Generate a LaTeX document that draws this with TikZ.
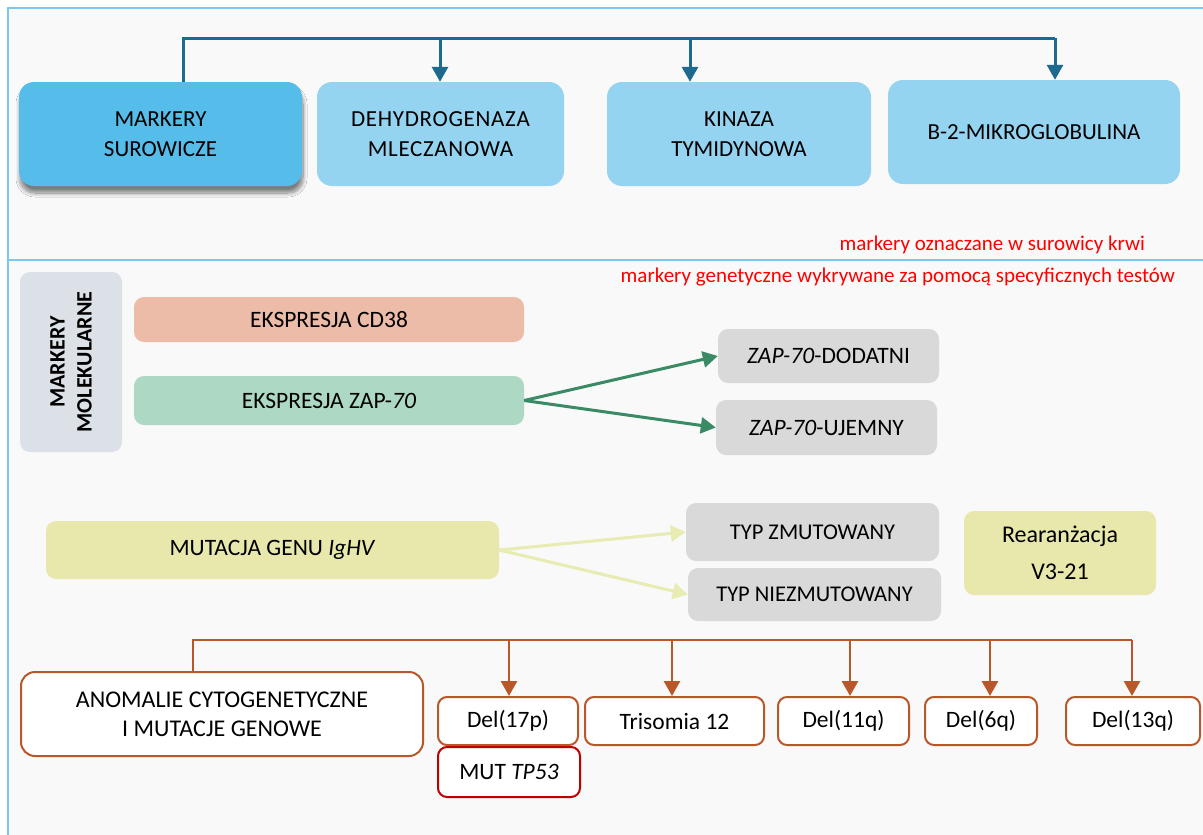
\documentclass[tikz,border=0pt]{standalone}
\usepackage{fontspec}
\setmainfont{Carlito}
\usetikzlibrary{arrows.meta,shadows.blur}
\definecolor{frameblue}{HTML}{7CC8EE}
\definecolor{bg}{HTML}{F9F9F9}
\definecolor{darkblue}{HTML}{56BCE9}
\definecolor{lightblue}{HTML}{94D4F1}
\definecolor{linkblue}{HTML}{1E6A8F}
\definecolor{molgrey}{HTML}{DCE0E7}
\definecolor{salmon}{HTML}{EDBCA8}
\definecolor{mint}{HTML}{ADD9C4}
\definecolor{boxgrey}{HTML}{D9D9D9}
\definecolor{linkgreen}{HTML}{3A8A66}
\definecolor{paleyellow}{HTML}{E8E8AC}
\definecolor{linkyellow}{HTML}{E8EBB2}
\definecolor{rust}{HTML}{B8582A}
\definecolor{darkred}{HTML}{C00000}
\begin{document}
\begin{tikzpicture}[x=1pt,y=-1pt,
  txt/.style={font=\fontsize{23.5}{28}\selectfont,align=center,text=black,inner sep=0pt},
  topbox/.style={rounded corners=15pt,draw=none,fill=lightblue,txt,minimum height=104pt,font=\fontsize{23}{30}\selectfont},
  softbox/.style={rounded corners=10pt,draw=none,txt},
  cytobox/.style={rounded corners=9pt,draw=rust,line width=2pt,fill=white,txt,minimum height=48pt},
  tip/.style={-{Triangle[width=16pt,length=15pt]}},
  bluelink/.style={linkblue,line width=3pt},
  bluearrow/.style={bluelink,tip},
  greenarrow/.style={linkgreen,line width=3pt,tip},
  yellowarrow/.style={linkyellow,line width=3pt,tip},
  rustlink/.style={rust,line width=2.8pt},
  rustarrow/.style={rustlink,tip},
  note/.style={font=\fontsize{21}{24}\selectfont,text=red,inner sep=0pt}
]
% canvas and frame
\useasboundingbox (0,0) rectangle (1203,835);
\fill[white] (0,0) rectangle (1203,835);
\fill[bg] (8,8) rectangle (1203,835);
\draw[frameblue,line width=2pt] (1203,8) -- (8,8) -- (8,835);
\draw[frameblue,line width=2pt] (8,260) -- (1203,260);

% serum markers
\node[topbox,fill=darkblue,minimum width=283pt,
      blur shadow={shadow xshift=1pt,shadow yshift=-7pt,shadow blur steps=12,shadow blur radius=4pt,shadow opacity=50}]
  (ms) at (160.5,134) {MARKERY\\SUROWICZE};
\node[topbox,minimum width=247pt,font=\fontsize{23}{30}\selectfont\addfontfeatures{LetterSpace=3}] (ldh) at (440.5,134) {DEHYDROGENAZA\\MLECZANOWA};
\node[topbox,minimum width=264pt] (tk) at (739,134) {KINAZA\\TYMIDYNOWA};
\node[topbox,minimum width=292pt] (b2m) at (1034,132) {B-2-MIKROGLOBULINA};

\coordinate (bus0) at (183,38);
\coordinate (bus1) at (440,38);
\coordinate (bus2) at (690,38);
\coordinate (bus3) at (1055,38);
\draw[bluelink] (bus0 |- ms.north) -- (bus0) -- (bus3);
\draw[bluearrow] (bus1) -- (bus1 |- ldh.north);
\draw[bluearrow] (bus2) -- (bus2 |- tk.north);
\draw[bluearrow] (bus3) -- (bus3 |- b2m.north);

\node[note,anchor=east] (n1) at (1145,245) {markery oznaczane w surowicy krwi};
\node[note,anchor=east] (n2) at (1175,277) {markery genetyczne wykrywane za pomocą specyficznych testów};

% molecular markers
\node[softbox,fill=molgrey,minimum width=102pt,minimum height=180pt] (mol) at (71,362) {};
\node[txt,font=\fontsize{22}{27}\selectfont\bfseries,rotate=90] (molt) at (mol.center) {MARKERY\\MOLEKULARNE};
\node[softbox,fill=salmon,minimum width=390pt,minimum height=45pt] (cd38) at (329,319.5) {EKSPRESJA CD38};
\node[softbox,fill=mint,minimum width=390pt,minimum height=49pt] (zap) at (329,400.5) {EKSPRESJA ZAP-\textit{70}};
\node[softbox,fill=boxgrey,minimum width=221pt,minimum height=54pt] (zpos) at (828.5,356) {\textit{ZAP-70}-DODATNI};
\node[softbox,fill=boxgrey,minimum width=221pt,minimum height=55pt] (zneg) at (826.5,427.5) {\textit{ZAP-70}-UJEMNY};
\draw[greenarrow] (zap.east) -- (zpos.west);
\draw[greenarrow] (zap.east) -- (zneg.west);

\node[softbox,fill=paleyellow,minimum width=453pt,minimum height=58pt] (ighv) at (272.5,550) {MUTACJA GENU \textit{IgHV}};
\node[softbox,fill=boxgrey,minimum width=253pt,minimum height=58pt,font=\fontsize{22.5}{27}\selectfont] (mut) at (812.5,532) {TYP ZMUTOWANY};
\node[softbox,fill=boxgrey,minimum width=253pt,minimum height=53pt,font=\fontsize{22.5}{27}\selectfont] (unmut) at (814.5,594.5) {TYP NIEZMUTOWANY};
\draw[yellowarrow] (ighv.east) -- (mut.west);
\draw[yellowarrow] (ighv.east) -- (unmut.west);
\node[softbox,fill=paleyellow,minimum width=192pt,minimum height=84pt,font=\fontsize{24}{37}\selectfont] (v321) at (1060,553) {Rearanżacja\\V3-21};

% cytogenetic anomalies
\node[cytobox,rounded corners=14pt,minimum width=402pt,minimum height=84pt,font=\fontsize{24}{29}\selectfont] (cyto) at (222,714) {ANOMALIE CYTOGENETYCZNE\\I MUTACJE GENOWE};
\node[cytobox,minimum width=140pt] (d17) at (508,721) {Del(17p)};
\node[cytobox,draw=darkred,minimum width=142pt,minimum height=50pt] (tp53) at (509,772) {MUT \textit{TP53}};
\node[cytobox,minimum width=179pt] (tri) at (674.5,721) {Trisomia 12};
\node[cytobox,minimum width=131pt] (d11) at (843.5,721) {Del(11q)};
\node[cytobox,minimum width=112pt] (d6) at (981,721) {Del(6q)};
\node[cytobox,minimum width=134pt] (d13) at (1133,721) {Del(13q)};

\coordinate (rb0) at (193,640);
\coordinate (rb1) at (509,640);
\coordinate (rb2) at (672,640);
\coordinate (rb3) at (850,640);
\coordinate (rb4) at (990,640);
\coordinate (rb5) at (1132,640);
\draw[rustlink] (rb0 |- cyto.north) -- (rb0) -- (rb5);
\draw[rustarrow] (rb1) -- (rb1 |- d17.north);
\draw[rustarrow] (rb2) -- (rb2 |- tri.north);
\draw[rustarrow] (rb3) -- (rb3 |- d11.north);
\draw[rustarrow] (rb4) -- (rb4 |- d6.north);
\draw[rustarrow] (rb5) -- (rb5 |- d13.north);
\end{tikzpicture}
\end{document}
